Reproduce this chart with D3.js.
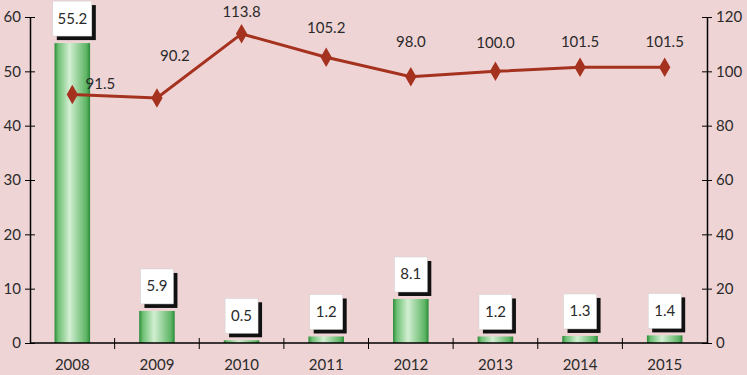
<!DOCTYPE html>
<html>
<head>
<meta charset="utf-8">
<script src="https://cdn.jsdelivr.net/npm/d3@7/dist/d3.min.js"></script>
<style>
  body { margin: 0; background: #efd4d5; }
  svg { display: block; font-family: Lato, "Open Sans", sans-serif; }
</style>
</head>
<body>
<svg id="chart" width="747" height="375"></svg>
<script>
const years = ["2008", "2009", "2010", "2011", "2012", "2013", "2014", "2015"];
const barValues = [55.2, 5.9, 0.5, 1.2, 8.1, 1.2, 1.3, 1.4];
const lineValues = [91.5, 90.2, 113.8, 105.2, 98.0, 100.0, 101.5, 101.5];
const leftTicks = [0, 10, 20, 30, 40, 50, 60];
const rightTicks = [0, 20, 40, 60, 80, 100, 120];

// label nudges for the line values (picture placement)
const lineLabelDx = [28, 18, 0, 0, 0, 0, 0, 0];
const lineLabelDy = [-10, -42, -22, -29, -35, -28, -25, -25];

const margin = { top: 17, right: 40, bottom: 32, left: 30 };
const width = 747, height = 375;
const svg = d3.select("#chart");

const x = d3.scaleBand()
  .domain(years)
  .range([margin.left, width - margin.right])
  .paddingInner(0.58)
  .paddingOuter(0.29);

const yLeft = d3.scaleLinear().domain([0, 60]).range([height - margin.bottom, margin.top]);
const yRight = d3.scaleLinear().domain([0, 120]).range([height - margin.bottom, margin.top]);

const defs = svg.append("defs");
const grad = defs.append("linearGradient").attr("id", "barGrad")
  .attr("x1", "0%").attr("x2", "100%").attr("y1", "0%").attr("y2", "0%");
grad.append("stop").attr("offset", "0%").attr("stop-color", "#2a8a38");
grad.append("stop").attr("offset", "10%").attr("stop-color", "#6cbf72");
grad.append("stop").attr("offset", "42%").attr("stop-color", "#d2efd2");
grad.append("stop").attr("offset", "90%").attr("stop-color", "#5cb463");
grad.append("stop").attr("offset", "100%").attr("stop-color", "#2a8a38");

// bars
svg.append("g")
  .selectAll("rect")
  .data(barValues)
  .enter()
  .append("rect")
  .attr("x", (d, i) => x(years[i]))
  .attr("y", d => yLeft(d))
  .attr("width", x.bandwidth())
  .attr("height", d => yLeft(0) - yLeft(d))
  .attr("fill", "url(#barGrad)");

// left axis
const leftAxis = svg.append("g")
  .attr("transform", `translate(${margin.left},0)`)
  .call(d3.axisLeft(yLeft).tickValues(leftTicks).tickSize(5).tickSizeOuter(0).tickPadding(4));
leftAxis.selectAll(".tick line").attr("x1", 5);

// right axis
const rightAxis = svg.append("g")
  .attr("transform", `translate(${width - margin.right},0)`)
  .call(d3.axisRight(yRight).tickValues(rightTicks).tickSize(5).tickSizeOuter(0).tickPadding(4));
rightAxis.selectAll(".tick line").attr("x1", -5);

// bottom axis with ticks between categories
const bottom = svg.append("g").attr("transform", `translate(0,${yLeft(0)})`);
bottom.append("line")
  .attr("x1", margin.left).attr("x2", width - margin.right)
  .attr("stroke", "#000").attr("stroke-width", 1.5);
bottom.selectAll(".sep")
  .data(d3.range(1, years.length))
  .enter()
  .append("line")
  .attr("x1", i => margin.left + i * x.step())
  .attr("x2", i => margin.left + i * x.step())
  .attr("y1", -5).attr("y2", 6)
  .attr("stroke", "#000");
bottom.selectAll(".year")
  .data(years)
  .enter()
  .append("text")
  .attr("x", d => x(d) + x.bandwidth() / 2)
  .attr("y", 27)
  .attr("text-anchor", "middle")
  .attr("font-size", 15)
  .attr("fill", "#2a2a2a")
  .text(d => d);

svg.selectAll(".domain").attr("stroke", "#000").attr("stroke-width", 1.5);
svg.selectAll(".tick line").attr("stroke", "#000");
svg.selectAll(".tick text").attr("font-size", 15).attr("fill", "#2a2a2a")
  .attr("font-family", "Lato, 'Open Sans', sans-serif");

// bar labels in boxes with shadow
const boxes = svg.append("g")
  .selectAll("g")
  .data(barValues)
  .enter()
  .append("g")
  .attr("transform", (d, i) => `translate(${x(years[i]) + x.bandwidth() / 2},${yLeft(d) - 3})`);
boxes.each(function (d) {
  const g = d3.select(this);
  const label = d.toFixed(1);
  const w = label.length > 3 ? 39 : 33;
  const h = 35;
  g.append("rect")
    .attr("x", -w / 2 + 4).attr("y", -h)
    .attr("width", w).attr("height", h)
    .attr("fill", "#111");
  g.append("rect")
    .attr("x", -w / 2).attr("y", -h - 4)
    .attr("width", w).attr("height", h)
    .attr("fill", "#fff")
    .attr("stroke", "#ccc").attr("stroke-width", 0.5);
  g.append("text")
    .attr("x", 0).attr("y", -h / 2 + 1)
    .attr("text-anchor", "middle")
    .attr("font-size", 15)
    .attr("fill", "#2a2a2a")
    .text(label);
});

// line
const line = d3.line()
  .x((d, i) => x(years[i]) + x.bandwidth() / 2)
  .y(d => yRight(d));
svg.append("path")
  .datum(lineValues)
  .attr("d", line)
  .attr("fill", "none")
  .attr("stroke", "#a5321f")
  .attr("stroke-width", 3);

svg.append("g")
  .selectAll("path")
  .data(lineValues)
  .enter()
  .append("path")
  .attr("d", d3.symbol().type(d3.symbolDiamond).size(110))
  .attr("transform", (d, i) => `translate(${x(years[i]) + x.bandwidth() / 2},${yRight(d)})`)
  .attr("fill", "#a5321f");

svg.append("g")
  .selectAll("text")
  .data(lineValues)
  .enter()
  .append("text")
  .attr("x", (d, i) => x(years[i]) + x.bandwidth() / 2 + lineLabelDx[i])
  .attr("y", (d, i) => yRight(d) + lineLabelDy[i] + 5)
  .attr("text-anchor", "middle")
  .attr("font-size", 15)
  .attr("fill", "#2a2a2a")
  .text(d => d.toFixed(1));
</script>
</body>
</html>
